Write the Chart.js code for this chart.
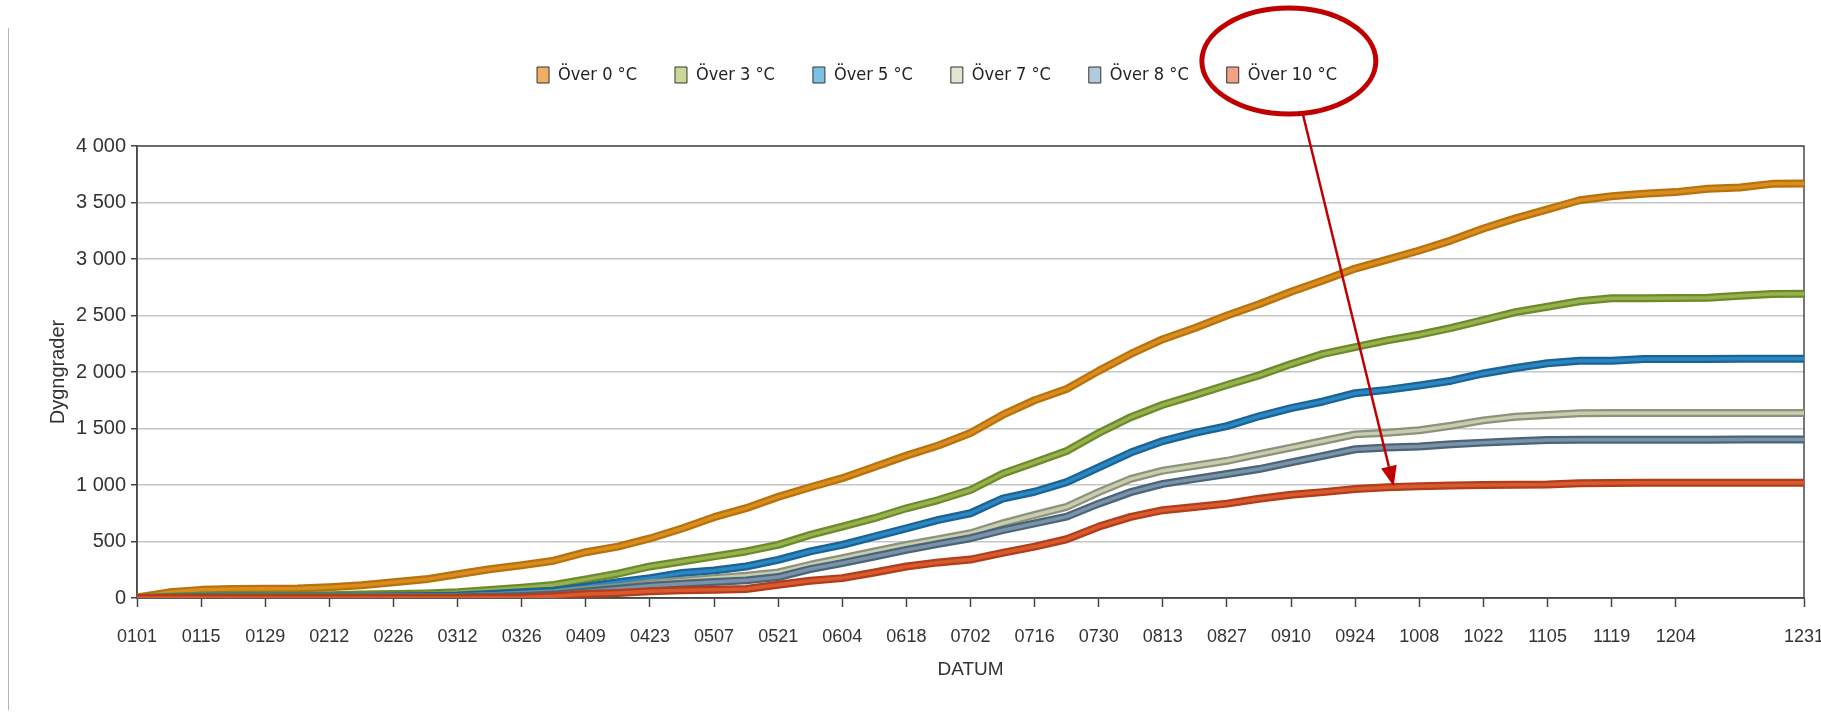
<!DOCTYPE html>
<html>
<head>
<meta charset="utf-8">
<title>Dygngrader</title>
<script src="https://cdn.jsdelivr.net/npm/chart.js@4.4.1/dist/chart.umd.min.js"></script>
<style>
  html, body { margin: 0; padding: 0; background: #fff; }
  #wrap { position: relative; width: 1821px; height: 718px; overflow: hidden; }
  #edge { position: absolute; left: 8px; top: 28px; width: 1px; height: 682px; background: #b4b4b4; }
  canvas { position: absolute; left: 0; top: 0; }
</style>
</head>
<body>
<div id="wrap">
  <div id="edge"></div>
  <canvas id="chart" width="1821" height="718"></canvas>
</div>
<script>
// weekly dates (MMDD) and the labels that are shown on the x axis
const dates = ['0101','0108','0115','0122','0129','0205','0212','0219','0226','0305',
  '0312','0319','0326','0402','0409','0416','0423','0430','0507','0514',
  '0521','0528','0604','0611','0618','0625','0702','0709','0716','0723',
  '0730','0806','0813','0820','0827','0903','0910','0917','0924','1001',
  '1008','1015','1022','1029','1105','1112','1119','1126','1204','1211',
  '1218','1225','1231'];
const tickLabels = ['0101','0115','0129','0212','0226','0312','0326','0409','0423','0507',
  '0521','0604','0618','0702','0716','0730','0813','0827','0910','0924',
  '1008','1022','1105','1119','1204','1231'];

const seriesNames = ['Över 0 °C', 'Över 3 °C', 'Över 5 °C', 'Över 7 °C', 'Över 8 °C', 'Över 10 °C'];

// accumulated degree days
const over0 = [5, 50, 72, 80, 82, 84, 95, 112, 140, 165,
  210, 255, 290, 330, 405, 455, 527, 615, 715, 795,
  895, 980, 1060, 1160, 1260, 1350, 1460, 1620, 1750, 1850,
  2010, 2160, 2290, 2390, 2500, 2600, 2710, 2810, 2915, 2995,
  3075, 3165, 3270, 3360, 3440, 3520, 3555, 3578, 3592, 3622,
  3633, 3665, 3668];
const over3 = [0, 10, 20, 22, 22, 23, 25, 30, 35, 40,
  50, 70, 90, 115, 165, 215, 279, 323, 368, 412,
  470, 559, 632, 706, 794, 867, 956, 1100, 1200, 1300,
  1460, 1600, 1710, 1795, 1885, 1970, 2070, 2160, 2220, 2280,
  2330, 2390, 2460, 2530, 2578, 2626, 2652, 2652, 2654, 2658,
  2674, 2690, 2692];
const over5 = [0, 3, 8, 10, 10, 10, 11, 12, 15, 18,
  22, 35, 50, 65, 100, 140, 176, 221, 244, 279,
  338, 412, 470, 544, 617, 691, 750, 880, 940, 1025,
  1156, 1287, 1389, 1462, 1521, 1608, 1681, 1739, 1812, 1842,
  1880, 1923, 1987, 2035, 2077, 2099, 2100, 2115, 2116, 2116,
  2117, 2117, 2118];
const over7 = [0, 1, 3, 4, 4, 4, 4, 5, 6, 7,
  9, 15, 25, 40, 70, 95, 130, 153, 176, 197,
  226, 294, 353, 412, 470, 520, 573, 660, 735, 806,
  937, 1054, 1127, 1171, 1214, 1273, 1331, 1389, 1448, 1462,
  1485, 1524, 1572, 1604, 1620, 1636, 1637, 1637, 1637, 1637,
  1638, 1638, 1638];
const over8 = [0, 0, 2, 2, 2, 2, 2, 3, 4, 5,
  6, 10, 18, 30, 58, 82, 109, 126, 141, 156,
  185, 256, 309, 367, 426, 479, 529, 600, 660, 720,
  835, 937, 1010, 1054, 1098, 1141, 1200, 1258, 1316, 1331,
  1340, 1360, 1375, 1388, 1398, 1400, 1401, 1401, 1401, 1401,
  1402, 1402, 1402];
const over10 = [0, 0, 0, 0, 0, 0, 0, 0, 0, 0,
  0, 2, 5, 15, 35, 45, 59, 68, 74, 79,
  118, 153, 176, 226, 279, 315, 340, 400, 455, 520,
  631, 718, 777, 806, 835, 879, 914, 937, 965, 981,
  990, 995, 1000, 1002, 1004, 1015, 1018, 1020, 1020, 1020,
  1020, 1021, 1021];

const series = [over0, over3, over5, over7, over8, over10];
const edgeColors = ['#b8720c', '#6c8a2c', '#1b6295', '#8b937a', '#4b6479', '#b03e1c'];
const innerColors = ['#d88d1e', '#97b24c', '#2b87c2', '#c9cdb0', '#7b93a7', '#d95a2c'];
const legendFill = ['#f0ae62', '#c9d993', '#7cc0e8', '#e1e5d2', '#b3c9dc', '#f2a184'];

Chart.defaults.font.family = "'Liberation Sans', Arial, sans-serif";

function fmt(v) {
  if (v < 1000) return String(v);
  return Math.floor(v / 1000) + ' ' + String(v % 1000).padStart(3, '0');
}

// lighter core on top of each thick line
const innerLine = {
  id: 'innerLine',
  afterDatasetDraw(chart, args) {
    const ds = chart.data.datasets[args.index];
    const pts = args.meta.data;
    const ctx = chart.ctx, a = chart.chartArea;
    ctx.save();
    ctx.beginPath();
    ctx.rect(a.left, a.top, a.right - a.left, a.bottom - a.top);
    ctx.clip();
    ctx.beginPath();
    pts.forEach((p, i) => i ? ctx.lineTo(p.x, p.y) : ctx.moveTo(p.x, p.y));
    ctx.strokeStyle = ds.innerColor;
    ctx.lineWidth = 3.5;
    ctx.lineJoin = 'round';
    ctx.stroke();
    ctx.restore();
  }
};

// more room between legend and plot, legend nudged right
const legendGap = {
  id: 'legendGap',
  beforeInit(chart) {
    const fit = chart.legend.fit;
    chart.legend.fit = function () {
      fit.bind(chart.legend)();
      this.height += 52;
    };
  },
  afterLayout(chart) {
    chart.legend.left += 14;
    chart.legend.right += 14;
  }
};

// dark frame round the plot area
const frame = {
  id: 'frame',
  beforeDatasetsDraw(chart) {
    const ctx = chart.ctx, a = chart.chartArea;
    ctx.save();
    ctx.strokeStyle = '#4a4a4a';
    ctx.lineWidth = 1.5;
    ctx.strokeRect(a.left, a.top, a.right - a.left, a.bottom - a.top);
    ctx.restore();
  }
};

// red ring round the last legend item and an arrow down to its line
const annotate = {
  id: 'annotate',
  afterDraw(chart) {
    const ctx = chart.ctx;
    const hb = chart.legend.legendHitBoxes[5];
    const cx = hb.left + hb.width / 2 + 7, cy = hb.top + hb.height / 2 - 14;
    const rx = 87, ry = 53;
    ctx.save();
    ctx.strokeStyle = '#c00000';
    ctx.fillStyle = '#c00000';
    ctx.lineWidth = 5;
    ctx.beginPath();
    ctx.ellipse(cx, cy, rx, ry, 0, 0, Math.PI * 2);
    ctx.stroke();

    const tipX = chart.scales.x.getPixelForValue(39.2);
    const tipY = chart.scales.y.getPixelForValue(over10[39]) - 1;
    const sx = cx + 14, sy = cy + ry;
    const ang = Math.atan2(tipY - sy, tipX - sx);
    const len = 20, half = 8;
    const bx = tipX - len * Math.cos(ang), by = tipY - len * Math.sin(ang);
    ctx.lineWidth = 2.5;
    ctx.beginPath();
    ctx.moveTo(sx, sy);
    ctx.lineTo(bx, by);
    ctx.stroke();
    ctx.beginPath();
    ctx.moveTo(tipX, tipY);
    ctx.lineTo(bx + half * Math.sin(ang), by - half * Math.cos(ang));
    ctx.lineTo(bx - half * Math.sin(ang), by + half * Math.cos(ang));
    ctx.closePath();
    ctx.fill();
    ctx.restore();
  }
};

new Chart(document.getElementById('chart'), {
  type: 'line',
  data: {
    labels: dates,
    datasets: series.map((s, i) => ({
      label: seriesNames[i],
      data: s,
      borderColor: edgeColors[i],
      innerColor: innerColors[i],
      borderWidth: 8,
      borderJoinStyle: 'round',
      pointRadius: 0,
      tension: 0,
      order: 5 - i
    }))
  },
  options: {
    responsive: false,
    animation: false,
    layout: { padding: { top: 28, left: 42, right: 17, bottom: 37 } },
    plugins: {
      tooltip: { enabled: false },
      legend: {
        position: 'top',
        labels: {
          boxWidth: 12,
          boxHeight: 16,
          padding: 38,
          color: '#222',
          font: { family: "'Liberation Sans Narrow', 'DejaVu Sans Condensed', sans-serif", size: 18 },
          generateLabels: chart => chart.data.datasets.map((ds, i) => ({
            text: ds.label,
            fillStyle: legendFill[i],
            strokeStyle: '#333',
            lineWidth: 1,
            hidden: false,
            datasetIndex: i,
            fontColor: '#222'
          }))
        }
      }
    },
    scales: {
      x: {
        ticks: {
          autoSkip: false,
          maxRotation: 0,
          padding: 19,
          color: '#333',
          font: { size: 18 },
          callback: (v, i) => tickLabels.includes(dates[i]) ? dates[i] : ''
        },
        grid: {
          drawOnChartArea: false,
          drawTicks: true,
          tickLength: 9,
          tickWidth: 1.5,
          tickColor: c => tickLabels.includes(dates[c.index]) ? '#444' : 'rgba(0,0,0,0)'
        },
        border: { color: '#444', width: 1.5 },
        title: { display: true, text: 'DATUM', color: '#333', font: { size: 19 }, padding: { top: 4, bottom: 0 } },
        afterFit: s => { s.height = 83; s.paddingRight = 0; }
      },
      y: {
        min: 0,
        max: 4000,
        ticks: { stepSize: 500, padding: 5, color: '#333', font: { size: 20 }, callback: v => fmt(v) },
        grid: { color: '#c6c6c6', lineWidth: 1.5, tickLength: 6, tickColor: '#444' },
        border: { color: '#444', width: 1.5 },
        title: { display: true, text: 'Dygngrader', color: '#333', font: { size: 20 }, padding: { top: 4, bottom: 4 } },
        afterFit: s => { s.width = 95; }
      }
    }
  },
  plugins: [innerLine, legendGap, frame, annotate]
});
</script>
</body>
</html>
